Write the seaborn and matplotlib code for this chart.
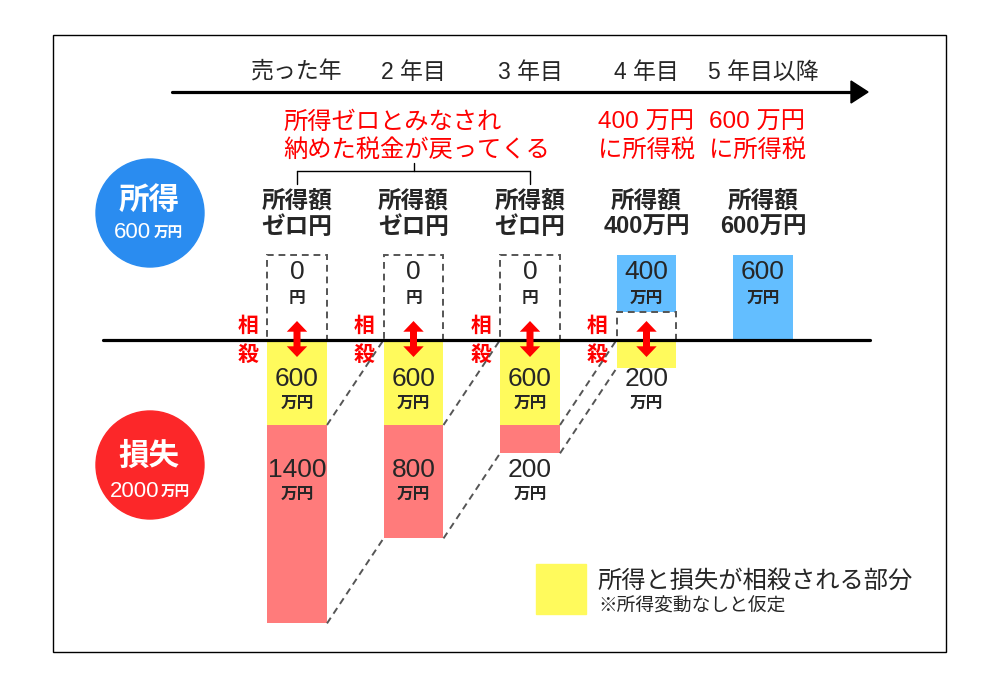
import matplotlib
matplotlib.use("Agg")
import matplotlib.pyplot as plt
import matplotlib.patches as mpatches
import matplotlib.transforms as mtransforms
import seaborn as sns

# values in 万円
years = ["売った年", "2 年目", "3 年目", "4 年目", "5 年目以降"]
income = [600, 600, 600, 600, 600]
offset = [600, 600, 600, 200, 0]
taxed = [0, 0, 0, 400, 600]
loss_left = [2000, 1400, 800, 200, 0]
income_heads = ["ゼロ円", "ゼロ円", "ゼロ円", "400万円", "600万円"]
box_nums = ["0", "0", "0", "400", "600"]
box_units = ["円", "円", "円", "万円", "万円"]
remaining = [a - b for a, b in zip(loss_left, offset)]

YELLOW = "#FFFA5C"
PINK = "#FF7B7B"
SKY = "#63BEFF"
BLUE_C = "#2A8CF0"
RED_C = "#FC2729"
RED = "#FF0000"
GREY = "#555555"

sns.set_theme(style="white")
plt.rcParams["font.family"] = ["Liberation Sans", "Noto Sans CJK JP"]

fig = plt.figure(figsize=(10, 6.85), dpi=100)

# pixel overlay for frame, timeline, circles, legend
ov = fig.add_axes([0, 0, 1, 1])
ov.set_xlim(0, 1000)
ov.set_ylim(685, 0)
ov.axis("off")

ax = fig.add_axes([0, 0, 1, 1])
ax.patch.set_alpha(0)

w = 0.515
dash = (0, (3.5, 2.5))
bar_kw = dict(x=years, order=years, width=w, errorbar=None, saturation=1, ax=ax)

# losses below the line: whole remaining loss, then the offset part on top
sns.barplot(y=[-v for v in loss_left], color=PINK, linewidth=0, zorder=2, **bar_kw)
sns.barplot(y=[-v for v in offset], color=YELLOW, linewidth=0, zorder=3, **bar_kw)
# income above the line: taxed part, then zero-income boxes
sns.barplot(y=[o + t if t else 0 for o, t in zip(offset, taxed)], color=SKY,
            linewidth=0, zorder=2, **bar_kw)
sns.barplot(y=offset, color="white", edgecolor=GREY, linewidth=1.4,
            linestyle=dash, zorder=3, **bar_kw)

ax.set_xlim(-297 / 116.5, 703 / 116.5)
ax.set_ylim(-345 / 0.1417, 340 / 0.1417)
ax.axis("off")

ax.axhline(0, xmin=0.103, xmax=0.870, color="black", lw=2.3, zorder=5)

# dashed links for carried-over loss
for i in range(3):
    ax.plot([i + w / 2, i + 1 - w / 2], [-offset[i], 0], color=GREY, lw=1.4,
            ls=dash, zorder=4)
    ax.plot([i + w / 2, i + 1 - w / 2], [-loss_left[i], -loss_left[i + 1]],
            color=GREY, lw=1.4, ls=dash, zorder=4)

# offset arrows: two filled arrows pointing out from the middle
arrow_style = "simple,head_length=0.55,head_width=1.05,tail_width=0.36"
for i in range(4):
    for tip in (134, -120):
        ax.annotate("", xy=(i, tip), xytext=(i, 7), zorder=6,
                    arrowprops=dict(arrowstyle=arrow_style, fc=RED, ec="none",
                                    lw=0, shrinkA=0, shrinkB=0,
                                    mutation_scale=14))

num_kw = dict(ha="center", va="center", fontsize=19, zorder=7)
unit_kw = dict(ha="center", va="center", fontsize=12, fontweight="bold", zorder=7)
for i in range(5):
    ax.text(i, 480, box_nums[i], **num_kw)
    ax.text(i, 296, box_units[i], **unit_kw)
for i in range(4):
    ax.text(i, -278, str(offset[i]), **num_kw)
    ax.text(i, -447, "万円", **unit_kw)
for i in range(3):
    ax.text(i, -917, str(remaining[i]), **num_kw)
    ax.text(i, -1087, "万円", **unit_kw)

# headers aligned to columns, y in pixels
trans = mtransforms.blended_transform_factory(ax.transData, ov.transData)
for i, y in enumerate(years):
    ov.text(i, 72, y, transform=trans, ha="center", va="center", fontsize=16.5)
for i in range(5):
    ov.text(i, 201, "所得額", transform=trans, ha="center", va="center",
            fontsize=17, fontweight="bold")
    ov.text(i, 227, income_heads[i], transform=trans, ha="center", va="center",
            fontsize=17, fontweight="bold")
for i in range(4):
    ov.text(i - w / 2 - 0.163, 326, "相", transform=trans, ha="center",
            va="center", fontsize=15, fontweight="bold", color=RED)
    ov.text(i - w / 2 - 0.163, 355, "殺", transform=trans, ha="center",
            va="center", fontsize=15, fontweight="bold", color=RED)

red_kw = dict(ha="left", va="center", fontsize=17.5, color=RED)
ov.text(283, 123, "所得ゼロとみなされ", **red_kw)
ov.text(283, 151, "納めた税金が戻ってくる", **red_kw)
ov.text(598, 123, "400 万円", **red_kw)
ov.text(598, 151, "に所得税", **red_kw)
ov.text(709, 123, "600 万円", **red_kw)
ov.text(709, 151, "に所得税", **red_kw)

# bracket under the red note
ov.plot([0, 2], [171, 171], color="black", lw=1, transform=trans)
ov.plot([0, 0], [171, 184], color="black", lw=1, transform=trans)
ov.plot([2, 2], [171, 184], color="black", lw=1, transform=trans)
ov.plot([1, 1], [163, 171], color="black", lw=1, transform=trans)

# frame and timeline
ov.add_patch(mpatches.Rectangle((53, 35), 893, 617, fill=False, ec="black", lw=1))
ov.plot([172, 855], [92, 92], color="black", lw=2.3)
ov.add_patch(mpatches.Polygon([(851, 81), (868, 92), (851, 103)], color="black"))

# circles
ov.add_patch(mpatches.Circle((150, 213), 54, color=BLUE_C))
ov.text(149, 201, "所得", ha="center", va="center", fontsize=22,
        fontweight="bold", color="white")
ov.text(151, 232, "600", ha="right", va="center", fontsize=16, color="white")
ov.text(154, 233, "万円", ha="left", va="center", fontsize=10.5,
        fontweight="bold", color="white")

ov.add_patch(mpatches.Circle((150, 465), 54, color=RED_C))
ov.text(149, 457, "損失", ha="center", va="center", fontsize=22,
        fontweight="bold", color="white")
ov.text(159, 491, "2000", ha="right", va="center", fontsize=16, color="white")
ov.text(161, 492, "万円", ha="left", va="center", fontsize=10.5,
        fontweight="bold", color="white")

# legend
ov.add_patch(mpatches.Rectangle((536, 564), 50, 50, color=YELLOW))
ov.text(597, 581, "所得と損失が相殺される部分", ha="left", va="center", fontsize=17.5)
ov.text(598, 607, "※所得変動なしと仮定", ha="left", va="center", fontsize=13.5)

fig.savefig("out.png", dpi=100)
